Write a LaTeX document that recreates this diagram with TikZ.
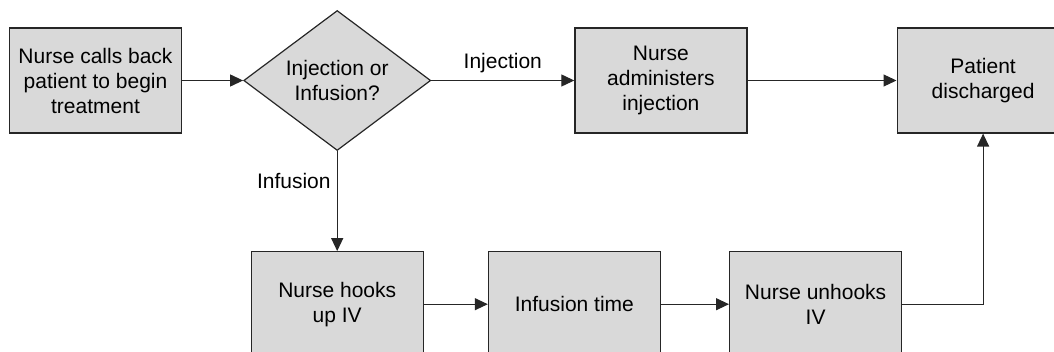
\documentclass[tikz,border=0pt]{standalone}
\usepackage{fontspec}
\setmainfont{Liberation Sans}
\usetikzlibrary{shapes.geometric,arrows.meta,positioning}

\begin{document}
\begin{tikzpicture}[x=1pt, y=-1pt,
    block_step/.style ={rectangle, draw=black!85, line width=1.2pt, fill=black!15,
      font=\fontsize{21}{25}\selectfont, align=center,
      minimum width=172pt, minimum height=105pt, inner sep=2pt},
    block_choice/.style ={diamond, draw=black!85, line width=1.2pt, fill=black!15,
      font=\fontsize{21}{25}\selectfont, align=center, aspect=1.336,
      minimum width=187pt, minimum height=140pt, inner sep=0pt},
    block_label/.style ={font=\fontsize{21}{25}\selectfont, inner sep=3pt},
    line/.style ={draw, line width=1.2pt, draw=black!85,
      -{Triangle[length=13pt, width=12pt]}, shorten >=0pt}]
    \useasboundingbox (0,0) rectangle (1054,352);
    % top row
    \node [block_step] (callback) at (95.5,80.5) {Nurse calls back\\patient to begin\\treatment};
    \node [block_choice] (choice) [right=61pt of callback] {Injection or\\Infusion?};
    \node [block_step] (inject) [right=143pt of choice] {Nurse\\administers\\injection};
    \node [block_step] (discharged) [right=149pt of inject] {Patient\\discharged};
    % bottom row
    \node [block_step] (hookup) [below=100pt of choice] {Nurse hooks\\up IV};
    \node [block_step] (infusion) [right=64pt of hookup] {Infusion time};
    \node [block_step] (unhook) [right=68pt of infusion] {Nurse unhooks\\IV};
    % connecting nodes with paths
    \begin{scope}[every path/.style=line]
      \path (callback) -- (choice);
      \path (choice)   -- node [block_label, above=4pt] {Injection} (inject);
      \path (inject)   -- (discharged);
      \path (choice)   -- node [block_label, pos=0.3, left=3pt] {Infusion} (hookup);
      \path (hookup)   -- (infusion);
      \path (infusion) -- (unhook);
      \path (unhook)   -| (discharged);
    \end{scope}
  \end{tikzpicture}
\end{document}
